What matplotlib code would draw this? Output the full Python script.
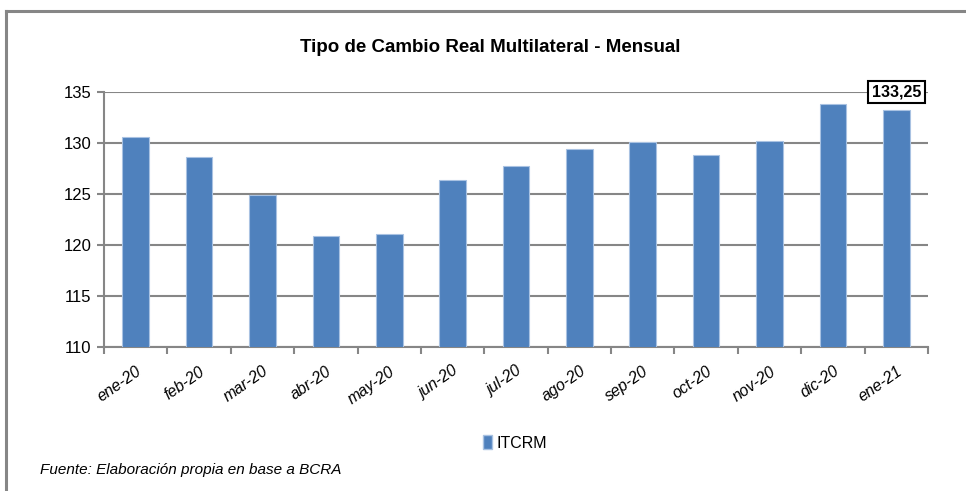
import matplotlib
matplotlib.use('Agg')
import matplotlib.pyplot as plt
from matplotlib.lines import Line2D
from matplotlib.patches import Patch
import numpy as np

plt.rcParams['font.family'] = ['Liberation Sans Narrow', 'Liberation Sans', 'DejaVu Sans']

meses = ['ene-20', 'feb-20', 'mar-20', 'abr-20', 'may-20', 'jun-20', 'jul-20',
         'ago-20', 'sep-20', 'oct-20', 'nov-20', 'dic-20', 'ene-21']
itcrm = [130.6, 128.6, 124.9, 120.9, 121.1, 126.4, 127.7,
         129.4, 130.1, 128.8, 130.2, 133.8, 133.25]
y_ticks = [110, 115, 120, 125, 130, 135]

azul = '#4F81BD'
gris = '#868686'

fig = plt.figure(figsize=(9.66, 4.91), dpi=100)

# marco exterior (solo arriba e izquierda visibles)
fig.add_artist(Line2D([0.006, 1.0], [1 - 11/491, 1 - 11/491], color=gris, lw=2.2))
fig.add_artist(Line2D([6/966, 6/966], [0, 1 - 11/491], color=gris, lw=2.2))

ax = fig.add_axes([104/966, 1 - 347/491, 824/966, 255/491])
x = np.arange(len(meses))
ax.bar(x, itcrm, width=0.42, color=azul, edgecolor='#a9c2e2', linewidth=0.8, zorder=3)

ax.set_xlim(-0.5, len(meses) - 0.5)
ax.set_ylim(110, 135)
ax.set_yticks(y_ticks)
ax.set_yticklabels([str(v) for v in y_ticks], fontsize=12)
ax.yaxis.grid(True, color=gris, lw=1.5, zorder=0)

ax.set_xticks(x)
ax.set_xticklabels(meses, rotation=35, ha='right', rotation_mode='anchor',
                   fontsize=11.5, style='italic')
ax.set_xticks(np.arange(len(meses) + 1) - 0.5, minor=True)
ax.tick_params(axis='x', which='major', length=0, pad=12)
ax.tick_params(axis='x', which='minor', length=5, color=gris, width=1.5)
ax.tick_params(axis='y', length=5, color=gris, width=1.5, pad=4)

for s in ['top', 'right']:
    ax.spines[s].set_visible(False)
for s in ['left', 'bottom']:
    ax.spines[s].set_color(gris)
    ax.spines[s].set_linewidth(1.5)

# etiqueta del último valor
ax.text(x[-1], 135, f'{itcrm[-1]:.2f}'.replace('.', ','), ha='center', va='center',
        fontsize=11.5, fontweight='bold', zorder=5,
        bbox=dict(boxstyle='square,pad=0.25', fc='white', ec='black', lw=1.5))

fig.text(490/966, 1 - 48/491, 'Tipo de Cambio Real Multilateral - Mensual',
         ha='center', va='center', fontsize=13.5, fontweight='bold')

fig.legend(handles=[Patch(facecolor=azul, edgecolor='#a9c2e2')], labels=['ITCRM'],
           loc='center', bbox_to_anchor=(515/966, 1 - 443/491), frameon=False,
           fontsize=11.5, handlelength=0.6, handleheight=0.9, handletextpad=0.3)

fig.text(40/966, 1 - 470/491, 'Fuente: Elaboración propia en base a BCRA',
         ha='left', va='center', fontsize=11, style='italic')

plt.savefig('out.png', dpi=100)
